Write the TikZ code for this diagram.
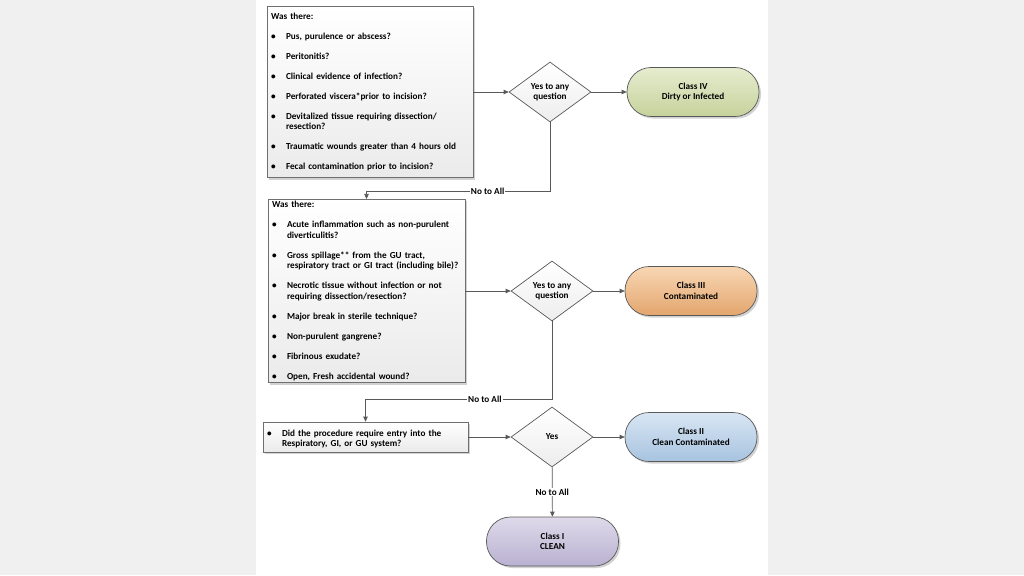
\documentclass[tikz,border=0pt]{standalone}
\usepackage{fontspec}
\setmainfont{Carlito}
\usepackage{enumitem}
\usetikzlibrary{shapes.geometric,shadows,arrows.meta}
\definecolor{bgC}{HTML}{F0F0F0}
\definecolor{lineC}{HTML}{595959}
\definecolor{boxC}{HTML}{6F6F6F}
\definecolor{g4a}{HTML}{E6ECCF}
\definecolor{g4b}{HTML}{C6D29C}
\definecolor{g3a}{HTML}{F8D6B4}
\definecolor{g3b}{HTML}{E3A66E}
\definecolor{g2a}{HTML}{D8E6F3}
\definecolor{g2b}{HTML}{A8C3E0}
\definecolor{g1a}{HTML}{DEDAEA}
\definecolor{g1b}{HTML}{B9B1D1}
\setlist[itemize]{label=\textbullet,leftmargin=15pt,labelwidth=8pt,labelsep=7pt,align=left,
  topsep=9.5pt,partopsep=0pt,itemsep=9.5pt,parsep=0pt}

\begin{document}
\begin{tikzpicture}[x=1pt,y=-1pt,
  every node/.style={font=\fontsize{9.2}{10.5}\selectfont\bfseries},
  qbox/.style={draw=boxC,line width=0.7pt,top color=white,bottom color=gray!16,
    inner xsep=4pt,inner ysep=2pt,
    drop shadow={opacity=0.35,shadow xshift=2pt,shadow yshift=-2pt}},
  decide/.style={diamond,draw=lineC,line width=0.7pt,top color=white,bottom color=gray!14,
    minimum width=82pt,minimum height=60pt,inner sep=0pt,align=center},
  term/.style={draw=lineC,line width=0.7pt,rounded corners=24pt,
    minimum width=132pt,minimum height=49pt,align=center,
    drop shadow={opacity=0.35,shadow xshift=2pt,shadow yshift=-2pt}},
  flow/.style={draw=lineC,line width=0.7pt,-{Triangle[length=5pt,width=4.5pt]}},
  lbl/.style={fill=white,inner sep=1pt}]
\useasboundingbox (0,0) rectangle (1024,575);
\fill[bgC] (0,0) rectangle (1024,575);
\fill[white] (256,0) rectangle (768,575);

% question boxes
\node[qbox,text width=198pt,minimum height=171pt] (q1) at (370,92) {Was there:
\begin{itemize}
\item Pus, purulence or abscess?
\item Peritonitis?
\item Clinical evidence of infection?
\item Perforated viscera*prior to incision?
\item Devitalized tissue requiring dissection/\\resection?
\item Traumatic wounds greater than 4 hours old
\item Fecal contamination prior to incision?
\end{itemize}};
\node[qbox,text width=189pt,minimum height=183pt] (q2) at (366.5,291) {Was there:
\begin{itemize}
\item Acute inflammation such as non-purulent\\diverticulitis?
\item Gross spillage** from the GU tract,\\respiratory tract or GI tract (including bile)?
\item Necrotic tissue without infection or not\\requiring dissection/resection?
\item Major break in sterile technique?
\item Non-purulent gangrene?
\item Fibrinous exudate?
\item Open, Fresh accidental wound?
\end{itemize}};
\node[qbox,text width=197pt,minimum height=30pt] (q3) at (365.5,437) {%
\begin{itemize}[topsep=0pt]
\item Did the procedure require entry into the\\Respiratory, GI, or GU system?
\end{itemize}};

% decisions
\node[decide] (d1) at (550,92) {Yes to any\\question};
\node[decide] (d2) at (552,291) {Yes to any\\question};
\node[decide] (d3) at (552,437) {Yes};

% classes
\node[term,top color=g4a,bottom color=g4b] (t4) at (693,92) {Class IV\\Dirty or Infected};
\node[term,top color=g3a,bottom color=g3b] (t3) at (691,291) {Class III\\Contaminated};
\node[term,top color=g2a,bottom color=g2b] (t2) at (691,437) {Class II\\Clean Contaminated};
\node[term,top color=g1a,bottom color=g1b] (t1) at (552.5,541.5) {Class I\\CLEAN};

\coordinate (n1) at (550,191);
\coordinate (n2) at (552,399);

\draw[flow] (q1) to (d1);
\draw[flow] (d1) to (t4);
\draw[flow] (d1) -- (n1) -| node[lbl,pos=0.17] {No to All} (q2);
\draw[flow] (q2) to (d2);
\draw[flow] (d2) to (t3);
\draw[flow] (d2) -- (n2) -| node[lbl,pos=0.18] {No to All} (q3);
\draw[flow] (q3) to (d3);
\draw[flow] (d3) to (t2);
\draw[flow] (d3) to node[lbl] {No to All} (t1);
\end{tikzpicture}
\end{document}
